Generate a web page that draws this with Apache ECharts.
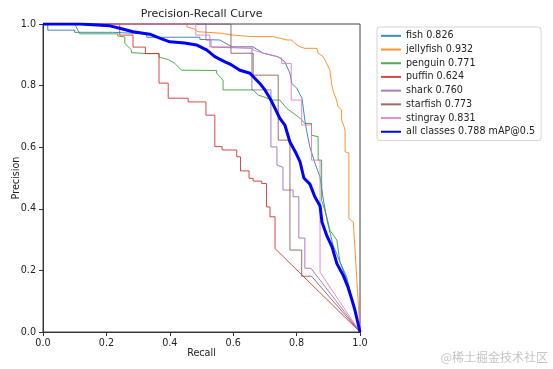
<!DOCTYPE html>
<html>
<head>
<meta charset="utf-8">
<script src="https://cdn.jsdelivr.net/npm/echarts@6/dist/echarts.min.js"></script>
<style>html,body{margin:0;padding:0;background:#fff;}#c{width:553px;height:369px;}</style>
</head>
<body>
<div id="c"></div>
<script>
// Tick labels
const xTicks = [0, 0.2, 0.4, 0.6, 0.8, 1.0];
const yTicks = [0, 0.2, 0.4, 0.6, 0.8, 1.0];

// Class names with AP (legend labels)
const classNames = ['fish 0.826', 'jellyfish 0.932', 'penguin 0.771', 'puffin 0.624', 'shark 0.760', 'starfish 0.773', 'stingray 0.831'];
const allName = 'all classes 0.788 mAP@0.5';

// [recall, precision] pairs
const fish = [[0,1],[0.015,1],[0.015,0.980],[0.100,0.980],[0.100,0.973],[0.220,0.973],[0.220,0.968],[0.327,0.968],[0.327,0.957],[0.495,0.957],[0.495,0.950],[0.558,0.948],[0.596,0.926],[0.662,0.926],[0.695,0.905],[0.741,0.894],[0.763,0.877],[0.779,0.840],[0.785,0.807],[0.801,0.791],[0.817,0.759],[0.826,0.688],[0.833,0.646],[0.842,0.600],[0.858,0.548],[0.874,0.503],[0.883,0.439],[0.896,0.363],[0.915,0.282],[0.937,0.227],[0.959,0.168],[0.975,0.103],[1,0]];
const jellyfish = [[0,1],[0.454,1],[0.454,0.991],[0.479,0.983],[0.488,0.975],[0.563,0.970],[0.599,0.964],[0.662,0.959],[0.725,0.959],[0.747,0.954],[0.770,0.948],[0.785,0.948],[0.795,0.937],[0.811,0.926],[0.826,0.921],[0.864,0.921],[0.868,0.905],[0.884,0.894],[0.895,0.872],[0.905,0.850],[0.911,0.802],[0.916,0.780],[0.926,0.753],[0.931,0.731],[0.942,0.721],[0.942,0.688],[0.947,0.675],[0.953,0.656],[0.953,0.585],[0.965,0.581],[0.965,0.368],[0.979,0.357],[1,0]];
const penguin = [[0,1],[0.100,1],[0.116,0.968],[0.236,0.968],[0.236,0.961],[0.258,0.958],[0.258,0.937],[0.279,0.916],[0.279,0.907],[0.326,0.904],[0.366,0.904],[0.366,0.892],[0.395,0.885],[0.395,0.880],[0.416,0.872],[0.437,0.850],[0.548,0.849],[0.548,0.840],[0.568,0.818],[0.568,0.786],[0.663,0.786],[0.679,0.769],[0.695,0.764],[0.722,0.753],[0.747,0.753],[0.769,0.726],[0.811,0.694],[0.826,0.677],[0.847,0.677],[0.847,0.639],[0.868,0.634],[0.868,0.558],[0.879,0.558],[0.879,0.428],[0.895,0.374],[0.905,0.331],[0.927,0.298],[0.937,0.227],[0.958,0.179],[1,0]];
const puffin = [[0,1],[0.242,1],[0.242,0.964],[0.284,0.964],[0.284,0.925],[0.323,0.925],[0.323,0.904],[0.366,0.904],[0.366,0.808],[0.395,0.808],[0.395,0.759],[0.458,0.759],[0.458,0.747],[0.514,0.747],[0.514,0.704],[0.542,0.704],[0.542,0.602],[0.565,0.602],[0.565,0.591],[0.611,0.591],[0.611,0.569],[0.623,0.569],[0.623,0.523],[0.650,0.523],[0.650,0.499],[0.663,0.499],[0.663,0.490],[0.690,0.490],[0.690,0.482],[0.705,0.482],[0.705,0.406],[0.716,0.406],[0.716,0.374],[0.732,0.374],[0.732,0.271],[1,0]];
const shark = [[0,1],[0.514,1],[0.514,0.948],[0.530,0.948],[0.530,0.925],[0.659,0.921],[0.659,0.786],[0.719,0.786],[0.719,0.601],[0.738,0.601],[0.738,0.542],[0.757,0.535],[0.757,0.461],[0.789,0.461],[0.789,0.439],[0.807,0.439],[0.807,0.305],[0.826,0.305],[0.826,0.207],[0.845,0.207],[1,0]];
const starfish = [[0,1],[0.593,1],[0.593,0.905],[0.663,0.905],[0.663,0.834],[0.742,0.834],[0.742,0.623],[0.779,0.623],[0.779,0.266],[0.816,0.266],[0.816,0.181],[0.847,0.181],[1,0]];
const stingray = [[0,1],[0.482,1],[0.482,0.964],[0.526,0.964],[0.526,0.926],[0.662,0.926],[0.662,0.916],[0.695,0.905],[0.722,0.899],[0.753,0.889],[0.753,0.872],[0.783,0.872],[0.783,0.753],[0.816,0.753],[0.816,0.672],[0.847,0.672],[0.847,0.558],[0.874,0.558],[0.874,0.194],[1,0]];
const allClasses = [[0,1],[0.116,1],[0.116,0.995],[0.211,0.994],[0.242,0.986],[0.284,0.975],[0.337,0.967],[0.368,0.954],[0.400,0.942],[0.447,0.938],[0.484,0.932],[0.516,0.916],[0.542,0.894],[0.574,0.877],[0.590,0.870],[0.621,0.850],[0.653,0.840],[0.668,0.824],[0.684,0.807],[0.700,0.786],[0.716,0.759],[0.732,0.726],[0.747,0.694],[0.763,0.672],[0.779,0.617],[0.798,0.581],[0.811,0.552],[0.823,0.500],[0.842,0.480],[0.858,0.438],[0.874,0.409],[0.880,0.357],[0.896,0.311],[0.912,0.276],[0.927,0.222],[0.947,0.184],[0.962,0.146],[0.975,0.103],[0.984,0.071],[1,0]];

const classData = [fish, jellyfish, penguin, puffin, shark, starfish, stingray];
const colors = ['#1f77b4', '#ff7f0e', '#2ca02c', '#d62728', '#9467bd', '#8c564b', '#e377c2'];

const FONT = 'DejaVu Sans';
const series = classData.map((d, i) => ({
  name: classNames[i], type: 'line', data: d, symbol: 'none', showSymbol: false,
  lineStyle: { width: 1, color: colors[i], opacity: 0.85 }, itemStyle: { color: colors[i] },
  animation: false, z: 2
}));
series.push({
  name: allName, type: 'line', data: allClasses, symbol: 'none', showSymbol: false,
  lineStyle: { width: 3, color: '#0000ff' }, itemStyle: { color: '#0000ff' },
  animation: false, z: 3
});

const axisCommon = {
  type: 'value', min: 0, max: 1, interval: 0.2,
  axisLine: { show: true, lineStyle: { color: '#333', width: 1 } },
  axisTick: { show: true, inside: false, length: 4, lineStyle: { color: '#333' } },
  splitLine: { show: false },
  axisLabel: { fontFamily: FONT, fontSize: 9.6, color: '#222', formatter: v => v.toFixed(1) },
  nameLocation: 'middle',
  nameMoveOverlap: false,
  nameTextStyle: { fontFamily: FONT, fontSize: 9.6, color: '#222' }
};

const chart = echarts.init(document.getElementById('c'), null, { renderer: 'canvas' });
chart.setOption({
  animation: false,
  backgroundColor: '#fff',
  title: {
    text: 'Precision-Recall Curve', left: 201.7, top: 9, textAlign: 'center', padding: 0,
    textStyle: { fontFamily: FONT, fontSize: 11, fontWeight: 'normal', color: '#222' }
  },
  grid: { left: 43, top: 24, right: 193, bottom: 37, show: true, borderColor: '#444', borderWidth: 1, containLabel: false, outerBoundsMode: 'none' },
  xAxis: Object.assign({}, axisCommon, { name: 'Recall', nameGap: 16, axisLabel: Object.assign({}, axisCommon.axisLabel, { margin: 6 }) }),
  yAxis: Object.assign({}, axisCommon, { name: 'Precision', nameGap: 22, nameRotate: 90, axisLabel: Object.assign({}, axisCommon.axisLabel, { margin: 7 }) }),
  legend: {
    orient: 'vertical', left: 377, top: 27, padding: [2, 6, 2, 3],
    itemWidth: 20, itemHeight: 8, itemGap: 0,
    itemStyle: { opacity: 0 },
    textStyle: { fontFamily: FONT, fontSize: 9.6, lineHeight: 13.7, color: '#222' },
    borderColor: '#d4d4d4', borderWidth: 1, borderRadius: 3, backgroundColor: '#fff',
    data: classNames.concat([allName])
  },
  graphic: [{
    type: 'text', right: 5, top: 351,
    style: { text: '@稀土掘金技术社区', fontFamily: 'Noto Sans CJK SC', fontSize: 12, fill: '#c4c4c4' }
  }],
  series: series
});
</script>
</body>
</html>
